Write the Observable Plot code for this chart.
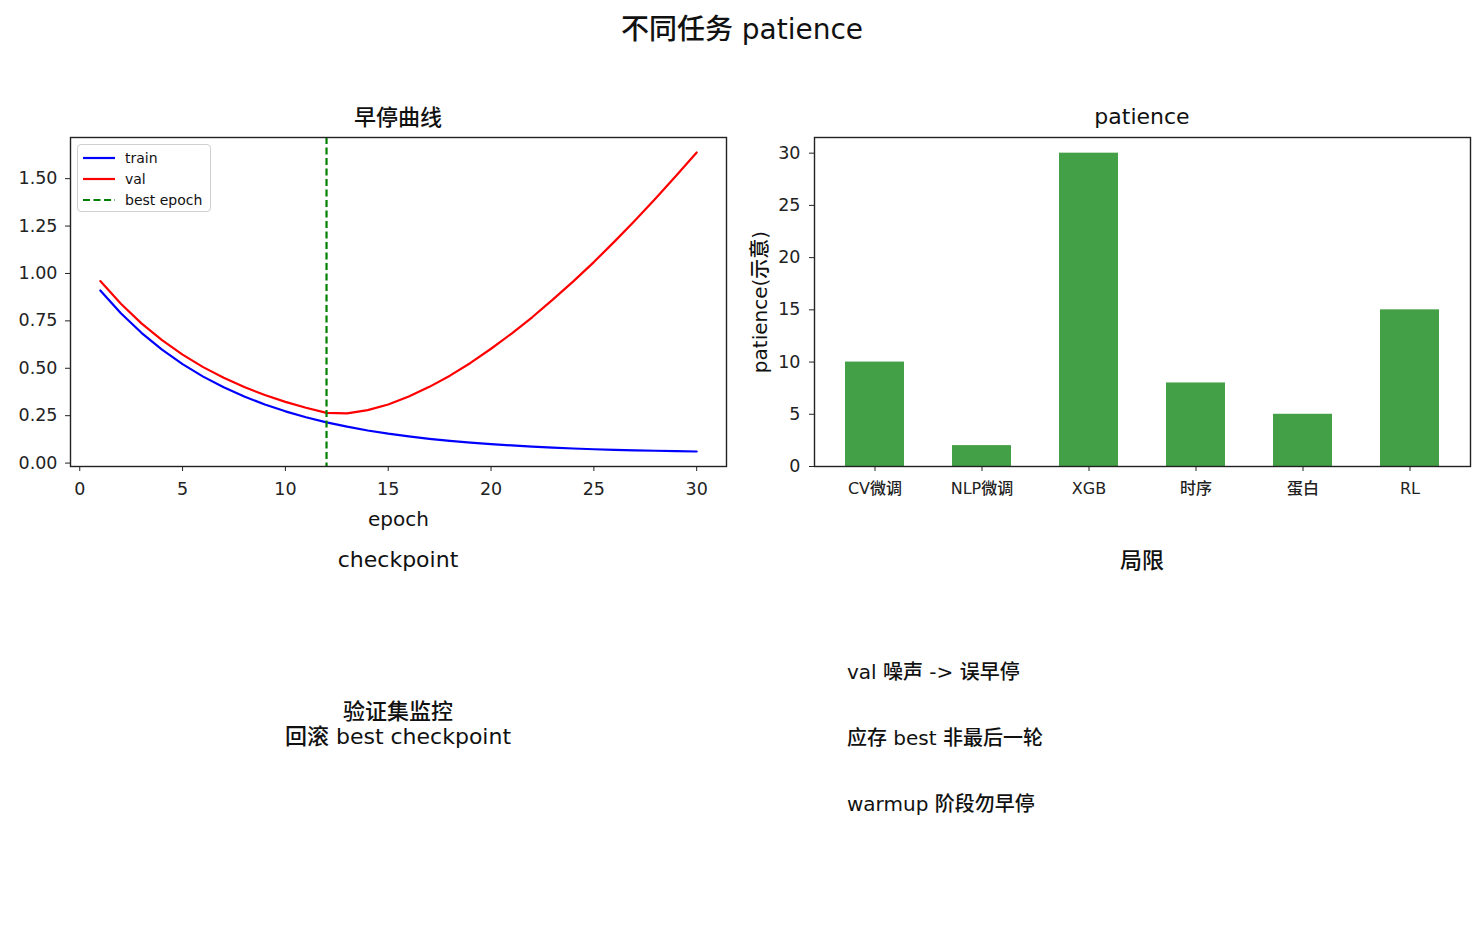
<!DOCTYPE html>
<html>
<head>
<meta charset="utf-8">
<script src="https://cdn.jsdelivr.net/npm/d3@7"></script>
<script src="https://cdn.jsdelivr.net/npm/@observablehq/plot@0.6"></script>
<style>
  html, body { margin: 0; padding: 0; background: #fff; }
  #fig { position: relative; width: 1484px; height: 925px; background: #fff; overflow: hidden;
         font-family: 'DejaVu Sans', 'Noto Sans CJK SC', sans-serif; color: #111; font-weight: 500; }
  #fig svg text { font-weight: 500; }
  .abs { position: absolute; white-space: nowrap; }
  .center { transform: translateX(-50%); text-align: center; }
  #bar g[aria-label^="x-axis"] text { font-size: 16px; }
  #legend { position: absolute; left: 77px; top: 144px; width: 134px; height: 68px;
            border: 1px solid #d0d0d0; border-radius: 4px; background: rgba(255,255,255,0.85);
            font-size: 14px; box-sizing: border-box; }
  #legend .row { position: absolute; left: 5px; height: 20px; display: flex; align-items: center; }
  #legend .row span { margin-left: 10px; }
</style>
</head>
<body>
<div id="fig"></div>
<script>
// ---- data ----
const epochs = [1,2,3,4,5,6,7,8,9,10,11,12,13,14,15,16,17,18,19,20,21,22,23,24,25,26,27,28,29,30];
const trainLoss = [0.910,0.790,0.687,0.598,0.522,0.456,0.400,0.351,0.309,0.273,0.242,0.215,0.192,0.172,0.155,0.141,0.128,0.117,0.108,0.100,0.093,0.087,0.082,0.077,0.073,0.070,0.067,0.065,0.063,0.061];
const valLoss = [0.960,0.840,0.737,0.648,0.572,0.506,0.450,0.401,0.359,0.323,0.292,0.265,0.262,0.279,0.309,0.351,0.402,0.461,0.528,0.603,0.683,0.769,0.862,0.958,1.060,1.168,1.279,1.395,1.515,1.638];
const bestEpoch = 12;
const seriesNames = ["train", "val", "best epoch"];
const tasks = ["CV微调", "NLP微调", "XGB", "时序", "蛋白", "RL"];
const patience = [10, 2, 30, 8, 5, 15];
const epochTicks = [0, 5, 10, 15, 20, 25, 30];
const lossTicks = [0, 0.25, 0.5, 0.75, 1.0, 1.25, 1.5];
const patienceTicks = [0, 5, 10, 15, 20, 25, 30];
const suptitle = "不同任务 patience";
const leftTitle = "早停曲线";
const rightTitle = "patience";
const xLabel = "epoch";
const yLabelBar = "patience(示意)";
const ckptTitle = "checkpoint";
const ckptLines = ["验证集监控", "回滚 best checkpoint"];
const limitTitle = "局限";
const limitLines = ["val 噪声 -> 误早停", "应存 best 非最后一轮", "warmup 阶段勿早停"];

const FONT = "'DejaVu Sans', 'Noto Sans CJK SC', sans-serif";
const fig = document.getElementById("fig");

function addText(txt, left, top, size, cls) {
  const d = document.createElement("div");
  d.className = "abs " + (cls || "");
  d.style.left = left + "px";
  d.style.top = top + "px";
  d.style.fontSize = size + "px";
  d.style.lineHeight = "1";
  d.textContent = txt;
  fig.appendChild(d);
  return d;
}

// titles
addText(suptitle, 742, 16, 28, "center");
addText(leftTitle, 398, 107, 22, "center");
addText(rightTitle, 1142, 106, 22, "center");

// ---- left: early stopping curves ----
const trainRows = epochs.map((e, i) => ({epoch: e, loss: trainLoss[i]}));
const valRows = epochs.map((e, i) => ({epoch: e, loss: valLoss[i]}));

const left = Plot.plot({
  width: 740, height: 410,
  marginLeft: 70, marginRight: 14, marginTop: 7, marginBottom: 74,
  style: {fontSize: "17.5px", fontFamily: FONT, color: "#222", background: "transparent", overflow: "visible"},
  x: {domain: [-0.45, 31.45], ticks: epochTicks, tickFormat: d => String(d), tickSize: 5, tickPadding: 11, label: null},
  y: {domain: [-0.018, 1.717], ticks: lossTicks, tickFormat: d3.format(".2f"), tickSize: 5, tickPadding: 8, label: null},
  marks: [
    Plot.line(trainRows, {x: "epoch", y: "loss", stroke: "#0000ff", strokeWidth: 2.2}),
    Plot.line(valRows, {x: "epoch", y: "loss", stroke: "#ff0000", strokeWidth: 2.2}),
    Plot.ruleX([bestEpoch], {stroke: "#008000", strokeWidth: 2.2, strokeDasharray: "7,3.5"}),
    Plot.frame({stroke: "#222", strokeWidth: 1.4}),
    Plot.text([xLabel], {frameAnchor: "bottom", text: d => d, dy: 59, fontSize: 20, fill: "#111"})
  ]
});
left.style.position = "absolute";
left.style.left = "0px";
left.style.top = "130px";
fig.appendChild(left);

// legend
const legend = document.createElement("div");
legend.id = "legend";
const legendStyles = [
  {stroke: "#0000ff", dash: null},
  {stroke: "#ff0000", dash: null},
  {stroke: "#008000", dash: "7,3.5"}
];
seriesNames.forEach((name, i) => {
  const row = document.createElement("div");
  row.className = "row";
  row.style.top = (3 + i * 21) + "px";
  const ns = "http://www.w3.org/2000/svg";
  const s = document.createElementNS(ns, "svg");
  s.setAttribute("width", "32"); s.setAttribute("height", "10");
  const l = document.createElementNS(ns, "line");
  l.setAttribute("x1", "0"); l.setAttribute("x2", "32"); l.setAttribute("y1", "5"); l.setAttribute("y2", "5");
  l.setAttribute("stroke", legendStyles[i].stroke); l.setAttribute("stroke-width", "2.2");
  if (legendStyles[i].dash) l.setAttribute("stroke-dasharray", legendStyles[i].dash);
  s.appendChild(l);
  row.appendChild(s);
  const t = document.createElement("span");
  t.textContent = name;
  row.appendChild(t);
  legend.appendChild(row);
});
fig.appendChild(legend);

// ---- right: patience bars ----
const barRows = tasks.map((t, i) => ({task: t, patience: patience[i]}));
const bar = Plot.plot({
  width: 744, height: 410,
  marginLeft: 74, marginRight: 14, marginTop: 7, marginBottom: 74,
  style: {fontSize: "17.5px", fontFamily: FONT, color: "#222", background: "transparent", overflow: "visible"},
  x: {type: "band", domain: tasks, paddingInner: 0.45, paddingOuter: 0.2775, tickSize: 5, tickPadding: 11, label: null},
  y: {domain: [0, 31.5], ticks: patienceTicks, tickSize: 5, tickPadding: 9, label: null},
  marks: [
    Plot.barY(barRows, {x: "task", y: "patience", fill: "#43a047"}),
    Plot.frame({stroke: "#222", strokeWidth: 1.4}),
    Plot.text([yLabelBar], {frameAnchor: "left", text: d => d, rotate: -90, dx: -54, textAnchor: "middle", fontSize: 20, fill: "#111"})
  ]
});
bar.id = "bar";
bar.style.position = "absolute";
bar.style.left = "740px";
bar.style.top = "130px";
fig.appendChild(bar);

// ---- bottom panels ----
addText(ckptTitle, 398, 549, 22, "center");
addText(ckptLines[0], 398, 701, 22, "center");
addText(ckptLines[1], 398, 726, 22, "center");
addText(limitTitle, 1142, 550, 22, "center");
limitLines.forEach((txt, i) => addText(txt, 847, 662 + i * 66, 20, ""));
</script>
</body>
</html>
